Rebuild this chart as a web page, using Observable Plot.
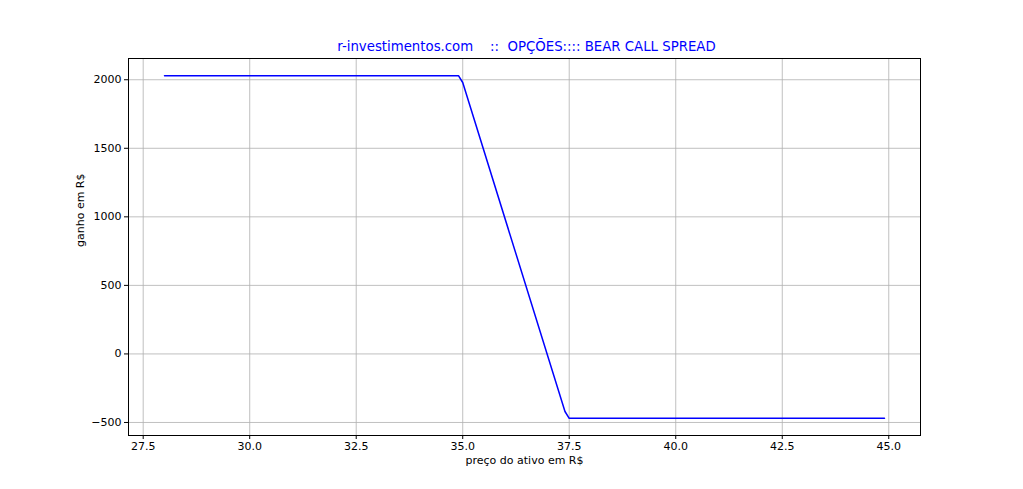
<!DOCTYPE html>
<html>
<head>
<meta charset="utf-8">
<script src="https://cdn.jsdelivr.net/npm/d3@7"></script>
<script src="https://cdn.jsdelivr.net/npm/@observablehq/plot@0.6"></script>
<style>
  html, body { margin: 0; padding: 0; background: #fff; }
  svg { display: block; }
</style>
</head>
<body>
<div id="chart"></div>
<script>
// Payoff curve vertices (price in R$, gain in R$)
const precos = [28.0, 34.9, 35.0, 37.4, 37.5, 44.9];
const ganhos = [2030, 2030, 1980, -420, -470, -470];
const xTicks = [27.5, 30.0, 32.5, 35.0, 37.5, 40.0, 42.5, 45.0];
const yTicks = [-500, 0, 500, 1000, 1500, 2000];
const titulo = "r-investimentos.com    ::  OPÇÕES:::: BEAR CALL SPREAD";
const xLabel = "preço do ativo em R$";
const yLabel = "ganho em R$";

const data = precos.map((p, i) => ({x: p, y: ganhos[i]}));

const chart = Plot.plot({
  width: 1023,
  height: 489,
  marginLeft: 128,
  marginRight: 103,
  marginTop: 58,
  marginBottom: 54,
  style: {fontFamily: "DejaVu Sans", fontSize: "11px", color: "#000", background: "#fff"},
  x: {domain: [27.155, 45.745], ticks: xTicks, tickFormat: d => d.toFixed(1), label: null},
  y: {domain: [-595, 2155], ticks: yTicks, tickFormat: d => d < 0 ? "\u2212" + Math.abs(d) : String(d), label: null},
  marks: [
    Plot.gridX(xTicks, {stroke: "#b0b0b0", strokeOpacity: 1, strokeWidth: 0.8}),
    Plot.gridY(yTicks, {stroke: "#b0b0b0", strokeOpacity: 1, strokeWidth: 0.8}),
    Plot.line(data, {x: "x", y: "y", stroke: "#0000ff", strokeWidth: 1.5}),
    Plot.frame({stroke: "#000", strokeWidth: 1}),
    Plot.axisX(xTicks, {tickSize: 4, tickPadding: 3, fontSize: 11, label: null, tickFormat: d => d.toFixed(1)}),
    Plot.axisY(yTicks, {tickSize: 4, tickPadding: 3, fontSize: 11, label: null, tickFormat: d => d < 0 ? "\u2212" + Math.abs(d) : String(d)}),
    Plot.text([titulo], {frameAnchor: "top", dx: 2, dy: -17, fill: "#0000ff", fontSize: 13.3, textAnchor: "middle"}),
    Plot.text([xLabel], {frameAnchor: "bottom", dy: 28, fill: "#000", fontSize: 11}),
    Plot.text([yLabel], {frameAnchor: "left", dx: -48, rotate: -90, fill: "#000", fontSize: 11})
  ]
});
document.getElementById("chart").appendChild(chart);
</script>
</body>
</html>
